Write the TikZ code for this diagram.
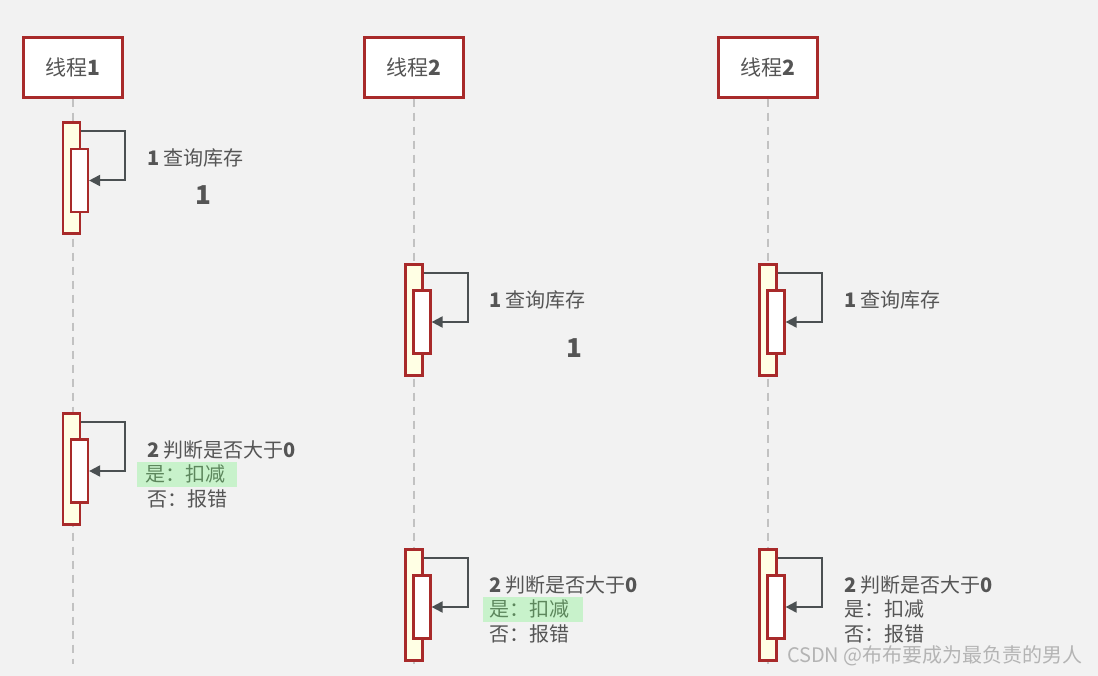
\documentclass[tikz,border=0pt]{standalone}
\usepackage{fontspec}
\setmainfont{Noto Sans CJK SC}
\usepackage{tikz}
\usetikzlibrary{arrows.meta}
\usetikzlibrary{positioning}
\usepackage{xcolor}
\definecolor{bggray}{HTML}{F2F2F2}
\definecolor{boxred}{HTML}{A82A2A}
\definecolor{actfill}{HTML}{FFFFE4}
\definecolor{txtgray}{HTML}{555555}
\definecolor{lifegray}{HTML}{C2C2C2}
\definecolor{arrgray}{HTML}{4B5052}
\definecolor{hlgreen}{HTML}{C8F2CB}
\definecolor{hltext}{HTML}{5C865C}
\definecolor{wmgray}{HTML}{B4B4B4}

\begin{document}
\begin{tikzpicture}[x=1pt,y=-1pt]
  \tikzstyle{thread}=[draw=boxred,line width=2.2pt,fill=white,minimum width=99pt,minimum height=60pt,text=txtgray,font=\fontsize{21}{25}\selectfont]
  \tikzstyle{act}=[draw=boxred,line width=2.2pt,fill=actfill,minimum width=17pt,minimum height=111pt,inner sep=0pt]
  \tikzstyle{sub}=[draw=boxred,line width=2.2pt,fill=white,minimum width=17pt,minimum height=63pt,inner sep=0pt]
  \tikzstyle{lifeline}=[draw=lifegray,line width=2pt,dash pattern=on 8pt off 6pt]
  \tikzstyle{selfcall}=[draw=arrgray,line width=2pt,-{Triangle[length=11pt,width=11pt]}]
  \tikzstyle{msg}=[anchor=west,inner sep=0pt,text=txtgray,font=\fontsize{20}{24}\selectfont]
  \tikzstyle{hl}=[fill=hlgreen,text=hltext,minimum height=25pt,inner xsep=8pt]
  \tikzstyle{val}=[inner sep=0pt,text=txtgray,font=\fontsize{26}{30}\selectfont\bfseries]

  \fill[bggray] (0,0) rectangle (1098,676);
  \useasboundingbox (0,0) rectangle (1098,676);

  % threads
  \node[thread] (t1) at (73,67.5)  {线程\textbf{1}};
  \node[thread] (t2) at (414,67.5) {线程\textbf{2}};
  \node[thread] (t3) at (768,67.5) {线程\textbf{2}};
  \coordinate (e1) at (73,664);
  \coordinate (e2) at (414,664);
  \coordinate (e3) at (768,664);
  \draw[lifeline] (t1.south) -- (e1);
  \draw[lifeline] (t2.south) -- (e2);
  \draw[lifeline] (t3.south) -- (e3);

  % step 1: query stock
  \node[act] (a1) at (71.5,178) {};
  \node[sub] (s1) at (79.5,180.5) {};
  \draw[selfcall] ([yshift=-10pt]a1.north east) -- ++(44,0) |- (s1.east);
  \node[msg] (q1) at (147,158) {\textbf{1} 查询库存};
  \node[val] (v1) at (203,195) {1};

  \node[act] (a2) at (414,320) {};
  \node[sub] (s2) at (422,322) {};
  \draw[selfcall] ([yshift=-10pt]a2.north east) -- ++(44,0) |- (s2.east);
  \node[msg] (q2) at (489,300) {\textbf{1} 查询库存};
  \node[val] (v2) at (574,348) {1};

  \node[act] (a3) at (768,320) {};
  \node[sub] (s3) at (776,322) {};
  \draw[selfcall] ([yshift=-10pt]a3.north east) -- ++(44,0) |- (s3.east);
  \node[msg] (q3) at (844,300) {\textbf{1} 查询库存};

  % step 2: check and deduct
  \node[act] (a4) at (71.5,469) {};
  \node[sub] (s4) at (79.5,471) {};
  \draw[selfcall] ([yshift=-10pt]a4.north east) -- ++(44,0) |- (s4.east);
  \node[msg] (j1) at (147,450) {\textbf{2} 判断是否大于\textbf{0}};
  \node[msg,hl,text width=84pt] (y1) at (137,474) {是：扣减};
  \node[msg] (n1) at (147,499) {否：报错};

  \node[act] (a5) at (414,605) {};
  \node[sub] (s5) at (422,607) {};
  \draw[selfcall] ([yshift=-10pt]a5.north east) -- ++(44,0) |- (s5.east);
  \node[msg] (j2) at (489,585) {\textbf{2} 判断是否大于\textbf{0}};
  \node[msg,hl,inner xsep=6pt,text width=88pt] (y2) at (483,609) {是：扣减};
  \node[msg] (n2) at (489,634) {否：报错};

  \node[act] (a6) at (768,605) {};
  \node[sub] (s6) at (776,607) {};
  \draw[selfcall] ([yshift=-10pt]a6.north east) -- ++(44,0) |- (s6.east);
  \node[msg] (j3) at (844,585) {\textbf{2} 判断是否大于\textbf{0}};
  \node[msg] (y3) at (844,609) {是：扣减};
  \node[msg] (n3) at (844,634) {否：报错};

  \node[anchor=east,inner sep=0pt,text=wmgray,font=\fontsize{20}{22}\selectfont] (wm) at (1083,656) {CSDN @布布要成为最负责的男人};
\end{tikzpicture}
\end{document}
